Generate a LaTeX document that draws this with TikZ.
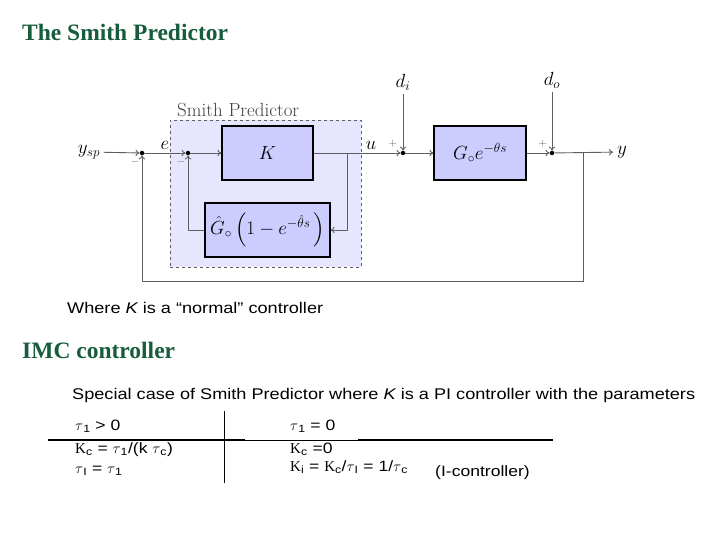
\RequirePackage{fix-cm}
\documentclass[tikz,border=0pt]{standalone}
\usepackage{amsmath}
\usepackage{amssymb}
\usepackage{fontspec}
\usepackage{tikz}
\usepackage{xcolor}
\usetikzlibrary{positioning, arrows.meta, calc}

\newfontfamily\slidesans[FakeStretch=1.17]{Liberation Sans}
\newfontfamily\slideserif{Liberation Serif}

\definecolor{slidegreen}{RGB}{24,92,62}
\definecolor{blockblue}{RGB}{204,204,255}
\definecolor{regionblue}{RGB}{230,230,255}
\definecolor{wiregray}{RGB}{95,95,95}

\tikzset{
  heading/.style={anchor=base west, inner sep=0pt, text=slidegreen, font=\slideserif\bfseries\fontsize{23.5}{26}\selectfont},
  bodytext/.style={anchor=base west, inner sep=0pt, font=\slidesans\fontsize{15.5}{18}\selectfont},
  tabtext/.style={anchor=base west, inner sep=0pt, font=\slidesans\fontsize{15}{17}\selectfont},
  lbl/.style={font=\fontsize{19}{22}\selectfont},
  block/.style={draw, rectangle, fill=blockblue, line width=1.2pt, inner sep=0pt, font=\fontsize{19}{22}\selectfont},
  junction/.style={circle, fill=black, inner sep=0pt, minimum size=4.5pt},
  signlbl/.style={text=wiregray, inner sep=0pt, font=\fontsize{11}{13}\selectfont},
  wire/.style={draw=wiregray, line width=0.9pt},
  sig/.style={wire, -{To[length=4pt, width=6.5pt]}}
}

\begin{document}
\begin{tikzpicture}[x=1pt, y=-1pt]
    \useasboundingbox (0,0) rectangle (720,540);

    % Slide headings and text
    \node[heading] (title) at (22,41) {The Smith Predictor};
    \node[bodytext] (where) at (67,313) {Where {\itshape K} is a “normal” controller};
    \node[heading] (imc) at (22,358) {IMC controller};
    \node[bodytext] (special) at (72,399) {Special case of Smith Predictor where {\itshape K} is a PI controller with the parameters};

    % Shaded Smith predictor region
    \node[draw=wiregray, dashed, line width=0.9pt, fill=regionblue, minimum width=191pt, minimum height=147pt] (smith) at (265.5,193.5) {};
    \node[anchor=base west, inner sep=0pt, text=black!75, font=\fontsize{19}{22}\selectfont] (smithlbl) at (177,117) {Smith Predictor};

    % Blocks
    \node[block, minimum width=91pt, minimum height=54pt] (Kblk) at (267.5,153) {$K$};
    \node[block, minimum width=125pt, minimum height=54pt] (Gpred) at (267.5,230) {$\hat{G}_\circ\,\Bigl(1-e^{-\hat{\theta}s}\,\Bigr)$};
    \node[block, minimum width=92pt, minimum height=54pt] (Gplant) at (480,153) {$G_\circ e^{-\theta s}$};

    % Summing junctions and branch points
    \node[junction] (sum1) at (142,153) {};
    \node[junction] (sum2) at (188,153) {};
    \node[junction] (sum3) at (403,153) {};
    \node[junction] (sum4) at (552,153) {};
    \coordinate (branchK) at (347,153);
    \coordinate (branchY) at (583,153);
    \coordinate (fbcorner) at (142,281);

    % Signals in and out
    \node[lbl] (ysp) at (89,152) {$y_{sp}$};
    \node[lbl, anchor=west, inner sep=4pt] (yout) at (613,152) {$y$};
    \node[lbl] (di) at (403,82) {$d_i$};
    \node[lbl] (dout) at (552,80) {$d_o$};

    % Forward path
    \draw[sig] (ysp) -- (sum1);
    \draw[sig] (sum1) -- (sum2) node[lbl, midway, above=0pt] {$e$};
    \draw[sig] (sum2) -- (Kblk);
    \draw[sig] (Kblk) -- (sum3) node[lbl, pos=0.66, above=0pt] {$u$};
    \draw[sig] (sum3) -- (Gplant);
    \draw[sig] (Gplant) -- (sum4);
    \draw[sig] (sum4) -- (yout);
    \draw[sig] (di) -- (sum3);
    \draw[sig] (dout) -- (sum4);

    % Feedback paths
    \draw[sig] (branchK) |- (Gpred.east);
    \draw[sig] (Gpred.west) -| (sum2);
    \draw[sig] (branchY) |- (fbcorner) -- (sum1);

    % Signs at the junctions
    \node[signlbl] at (135,162) {$-$};
    \node[signlbl] at (181,162) {$-$};
    \node[signlbl] at (393,144) {$+$};
    \node[signlbl] at (543,144) {$+$};

    % Parameter table
    \draw[line width=0.8pt] (224,411) -- (224,483);
    \draw[line width=1.6pt] (48,440) -- (245,440);
    \draw[line width=0.7pt] (245,440) -- (358,440);
    \draw[line width=1.6pt] (358,440) -- (553,440);

    \node[tabtext] (lrow1) at (75,430) {$\tau$\textsubscript{1} > 0};
    \node[tabtext] (lrow2) at (75,453) {{\slideserif K}\textsubscript{c} = $\tau$\textsubscript{1}/(k $\tau$\textsubscript{c})};
    \node[tabtext] (lrow3) at (75,473) {$\tau$\textsubscript{I} = $\tau$\textsubscript{1}};
    \node[tabtext] (rrow1) at (290,430) {$\tau$\textsubscript{1} = 0};
    \node[tabtext] (rrow2) at (290,453) {{\slideserif K}\textsubscript{c} =0};
    \node[tabtext] (rrow3) at (290,471) {{\slideserif K}\textsubscript{i} = {\slideserif K}\textsubscript{c}/$\tau$\textsubscript{I} = 1/$\tau$\textsubscript{c}};
    \node[tabtext] (icontrol) at (435,476) {(I-controller)};

\end{tikzpicture}
\end{document}
